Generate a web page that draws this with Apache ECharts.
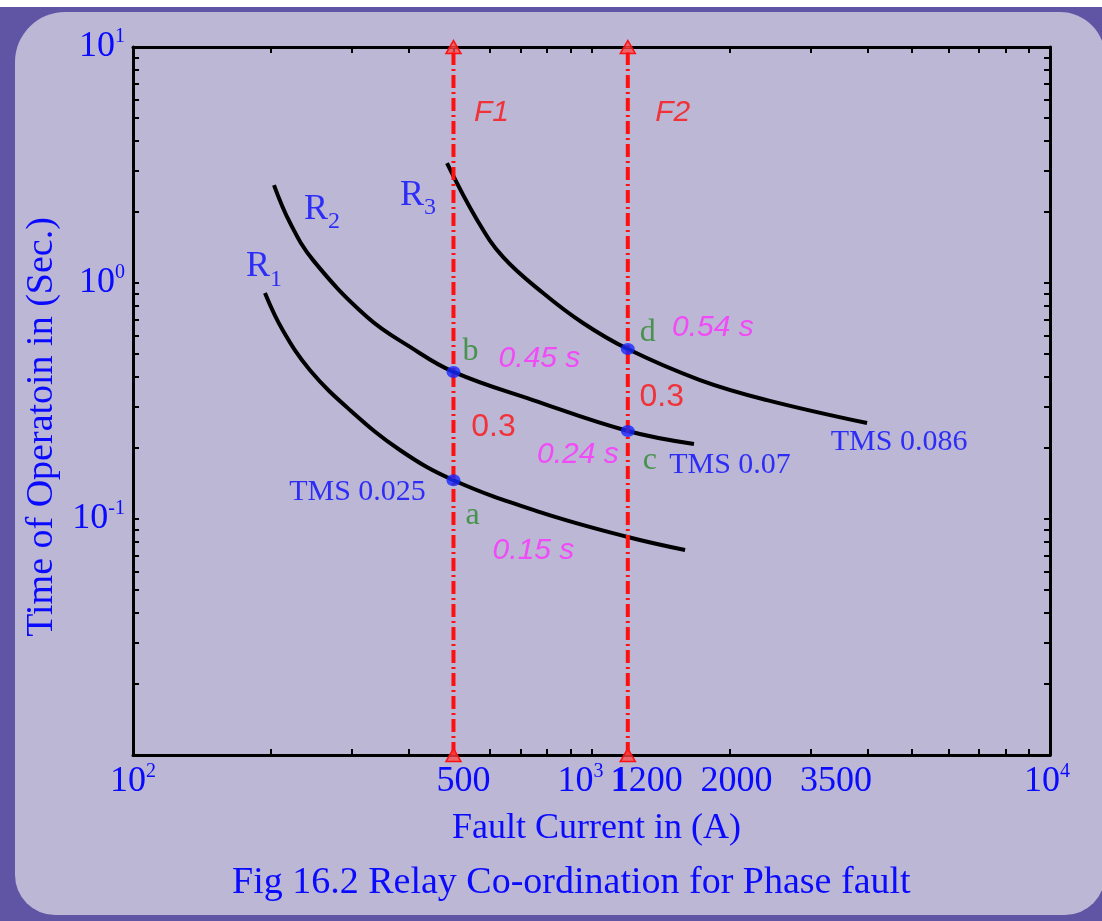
<!DOCTYPE html>
<html><head><meta charset="utf-8">
<script src="https://cdn.jsdelivr.net/npm/echarts@6/dist/echarts.min.js"></script>
<style>
html,body{margin:0;padding:0;background:#fff;width:1102px;height:921px;overflow:hidden}
#frame{position:absolute;left:0;top:7px;width:1102px;height:914px;background:#6054a5}
#inner{position:absolute;left:15px;top:12px;width:1090px;height:903px;background:#bbb7d5;border-radius:50px 45px 40px 40px}
#c{position:absolute;left:0;top:0;width:1102px;height:921px}
</style>
</head><body><div id="frame"></div><div id="inner"></div><div id="c"></div>
<script>
// ---------------- data ----------------
const xMin = 100, xMax = 10000, yMin = 0.01, yMax = 10;
const xTickLabels = [100, 500, 1000, 1200, 2000, 3500, 10000];
const yTickLabels = [0.1, 1, 10];
const xMinorTicks = [100, 200, 300, 400, 500, 600, 700, 800, 900, 1000, 2000, 3000, 4000, 5000, 6000, 7000, 8000, 9000, 10000];
const yMinorTicks = [0.01, 0.02, 0.03, 0.04, 0.05, 0.06, 0.07, 0.08, 0.09, 0.1, 0.2, 0.3, 0.4, 0.5, 0.6, 0.7, 0.8, 0.9, 1, 2, 3, 4, 5, 6, 7, 8, 9, 10];

const r1Current = [194, 212, 243, 297, 382, 500, 772, 1200, 1600];
const r1Time    = [0.907, 0.632, 0.428, 0.290, 0.196, 0.146, 0.107, 0.0839, 0.0739];
const r2Current = [203, 220, 247, 324, 402, 500, 745, 1200, 1673];
const r2Time    = [2.60, 1.80, 1.25, 0.718, 0.536, 0.420, 0.319, 0.236, 0.208];
const r3Current = [484, 563, 641, 784, 958, 1200, 1724, 2414, 3990];
const r3Time    = [3.22, 1.85, 1.29, 0.907, 0.677, 0.525, 0.388, 0.319, 0.255];
const relayNames = ['1', '2', '3'];
const tmsLabels = ['TMS 0.025', 'TMS 0.07', 'TMS 0.086'];

const faultNames = ['F1', 'F2'];
const faultCurrents = [500, 1200];

const pointNames = ['a', 'b', 'c', 'd'];
const pointCurrents = [500, 500, 1200, 1200];
const pointTimes = [0.146, 0.420, 0.236, 0.525];
const pointTimeLabels = ['0.15 s', '0.45 s', '0.24 s', '0.54 s'];
const marginLabels = ['0.3', '0.3'];

const title = 'Fig 16.2 Relay Co-ordination for Phase fault';
const xName = 'Fault Current in (A)';
const yName = 'Time of Operatoin in (Sec.)';

// ---------------- styles / layout ----------------
const SERIF = 'Liberation Serif', SANS = 'Liberation Sans';
const BLUE = '#0a0aff', GREEN = '#2a8a2a', MAGENTA = '#ff2eff', RED = '#ff1010';

const curves = [[r1Current, r1Time], [r2Current, r2Time], [r3Current, r3Time]];
const relayAnchorOff = [[-1, -26], [48, 24], [-29, 32]];
const tmsAnchor = [[0, 5], [1, 8], [2, 8]];      // [curve, point index]
const tmsOff = [[-96, 12], [36, 21], [32, 19]];
const letterOff = [[19, 35], [17, -20], [22, 30], [20, -16]];
const timeOff = [[80, 70], [86, -13], [-50, 24], [85, -21]];
const marginAnchor = [1, 3];
const marginOff = [[40, 55], [34, 48]];
const faultOff = [[38, 66], [45, 66]];

function labelPoint(at, text, off, style, rich) {
  return {
    value: at,
    label: Object.assign({show: true, position: 'inside', formatter: text, offset: off, rich: rich}, style)
  };
}
function textSeries(items) {
  return {type: 'scatter', symbolSize: 1, silent: true, clip: false, z: 8,
    itemStyle: {color: 'rgba(0,0,0,0)'}, data: items};
}

const relayRich = {
  r: {fontFamily: SERIF, fontSize: 36, color: BLUE, lineHeight: 38},
  s: {fontFamily: SERIF, fontSize: 24, color: BLUE, lineHeight: 24, padding: [26, 0, 0, 0]}
};

const labelItems = [];
curves.forEach((c, i) => {
  labelItems.push(labelPoint([c[0][0], c[1][0]], '{r|R}{s|' + relayNames[i] + '}', relayAnchorOff[i], {}, relayRich));
});
tmsLabels.forEach((t, i) => {
  const c = curves[tmsAnchor[i][0]], k = tmsAnchor[i][1];
  labelItems.push(labelPoint([c[0][k], c[1][k]], t, tmsOff[i], {color: BLUE, fontFamily: SERIF, fontSize: 30}));
});
pointNames.forEach((n, i) => {
  const at = [pointCurrents[i], pointTimes[i]];
  labelItems.push(labelPoint(at, n, letterOff[i], {color: GREEN, fontFamily: SERIF, fontSize: 32}));
  labelItems.push(labelPoint(at, pointTimeLabels[i], timeOff[i], {color: MAGENTA, fontFamily: SANS, fontSize: 30, fontStyle: 'italic'}));
});
marginLabels.forEach((m, i) => {
  const k = marginAnchor[i];
  labelItems.push(labelPoint([pointCurrents[k], pointTimes[k]], m, marginOff[i], {color: RED, fontFamily: SANS, fontSize: 32}));
});
faultNames.forEach((f, i) => {
  labelItems.push(labelPoint([faultCurrents[i], yMax], f, faultOff[i], {color: RED, fontFamily: SANS, fontSize: 30, fontStyle: 'italic'}));
});

const tickRich = {
  n:   {fontFamily: SERIF, fontSize: 36, color: BLUE, lineHeight: 40},
  n5:  {fontFamily: SERIF, fontSize: 36, color: BLUE, lineHeight: 40, padding: [0, 0, 0, 20]},
  n20: {fontFamily: SERIF, fontSize: 36, color: BLUE, lineHeight: 40, padding: [0, 0, 0, 14]},
  n35: {fontFamily: SERIF, fontSize: 36, color: BLUE, lineHeight: 40, padding: [0, 10, 0, 0]},
  b1:  {fontFamily: SERIF, fontSize: 36, color: BLUE, lineHeight: 40, fontWeight: 'bold', padding: [0, 0, 0, 38]},
  e:   {fontFamily: SERIF, fontSize: 20, color: BLUE, lineHeight: 20, verticalAlign: 'top'},
  e3:  {fontFamily: SERIF, fontSize: 20, color: BLUE, lineHeight: 20, verticalAlign: 'top', padding: [0, 22, 0, 0]},
  e4:  {fontFamily: SERIF, fontSize: 20, color: BLUE, lineHeight: 20, verticalAlign: 'top', padding: [0, 6, 0, 0]}
};
function nearest(list, v) {
  let best = list[0];
  list.forEach(t => { if (Math.abs(Math.log10(t) - Math.log10(v)) < Math.abs(Math.log10(best) - Math.log10(v))) best = t; });
  return best;
}
function xLabel(v) {
  const t = nearest(xTickLabels, v);
  switch (t) {
    case 100: return '{n|10}{e|2}';
    case 500: return '{n5|500}';
    case 1000: return '{n|10}{e3|3}';
    case 1200: return '{b1|1}{n|200}';
    case 2000: return '{n20|2000}';
    case 3500: return '{n35|3500}';
    case 10000: return '{n|10}{e4|4}';
  }
  return String(t);
}
function yLabel(v) {
  const t = nearest(yTickLabels, v);
  return '{n|10}{e|' + Math.round(Math.log10(t)) + '}';
}

const axisLine = {show: true, lineStyle: {color: '#000', width: 3}};
const tickStyle = {show: true, inside: true, length: 6, lineStyle: {color: '#000', width: 2}};

const option = {
  animation: false,
  backgroundColor: 'transparent',
  title: {
    text: title, left: 232, top: 864, padding: 0,
    textStyle: {fontFamily: SERIF, fontSize: 38, fontWeight: 'normal', color: BLUE}
  },
  grid: {left: 133, right: 52, top: 47, bottom: 166, containLabel: false},
  xAxis: [
    {type: 'log', logBase: 10, min: xMin, max: xMax, position: 'bottom',
     axisLine: axisLine,
     axisTick: Object.assign({customValues: xMinorTicks}, tickStyle),
     minorTick: {show: false}, splitLine: {show: false},
     axisLabel: {customValues: xTickLabels, formatter: xLabel, rich: tickRich, margin: 7},
     name: xName, nameLocation: 'middle', nameGap: 56,
     nameTextStyle: {fontFamily: SERIF, fontSize: 36, color: BLUE, padding: [0, 0, 0, 10]}},
    {type: 'log', logBase: 10, min: xMin, max: xMax, position: 'top',
     axisLine: axisLine,
     axisTick: Object.assign({customValues: xMinorTicks}, tickStyle),
     minorTick: {show: false}, splitLine: {show: false}, axisLabel: {show: false}}
  ],
  yAxis: [
    {type: 'log', logBase: 10, min: yMin, max: yMax, position: 'left',
     axisLine: axisLine,
     axisTick: Object.assign({customValues: yMinorTicks}, tickStyle),
     minorTick: {show: false}, splitLine: {show: false},
     axisLabel: {customValues: yTickLabels, formatter: yLabel, rich: tickRich, margin: 8},
     name: yName, nameLocation: 'middle', nameGap: 64,
     nameTextStyle: {fontFamily: SERIF, fontSize: 38, color: BLUE, padding: [0, 52, 0, 0]}},
    {type: 'log', logBase: 10, min: yMin, max: yMax, position: 'right',
     axisLine: axisLine,
     axisTick: Object.assign({customValues: yMinorTicks}, tickStyle),
     minorTick: {show: false}, splitLine: {show: false}, axisLabel: {show: false}}
  ],
  series: [].concat(
    curves.map(c => ({
      type: 'line', smooth: 0.4, symbol: 'none', z: 3,
      lineStyle: {color: '#000', width: 4},
      data: c[0].map((x, i) => [x, c[1][i]])
    })),
    faultCurrents.map(f => ({
      type: 'line', clip: false, z: 4, symbol: 'triangle', symbolSize: [15, 13], showSymbol: true,
      lineStyle: {color: RED, width: 4, type: [13, 4, 2, 4]},
      itemStyle: {color: 'rgba(255,70,70,0.75)', borderColor: RED, borderWidth: 1.5},
      data: [[f, yMin], [f, yMax]]
    })),
    [{
      type: 'scatter', z: 6, symbol: 'circle', symbolSize: [14, 12],
      itemStyle: {color: '#1428ff'},
      data: pointCurrents.map((x, i) => [x, pointTimes[i]])
    }],
    [textSeries(labelItems)]
  )
};
const chart = echarts.init(document.getElementById('c'), null, {renderer: 'canvas'});
chart.setOption(option);
</script>
</body></html>
